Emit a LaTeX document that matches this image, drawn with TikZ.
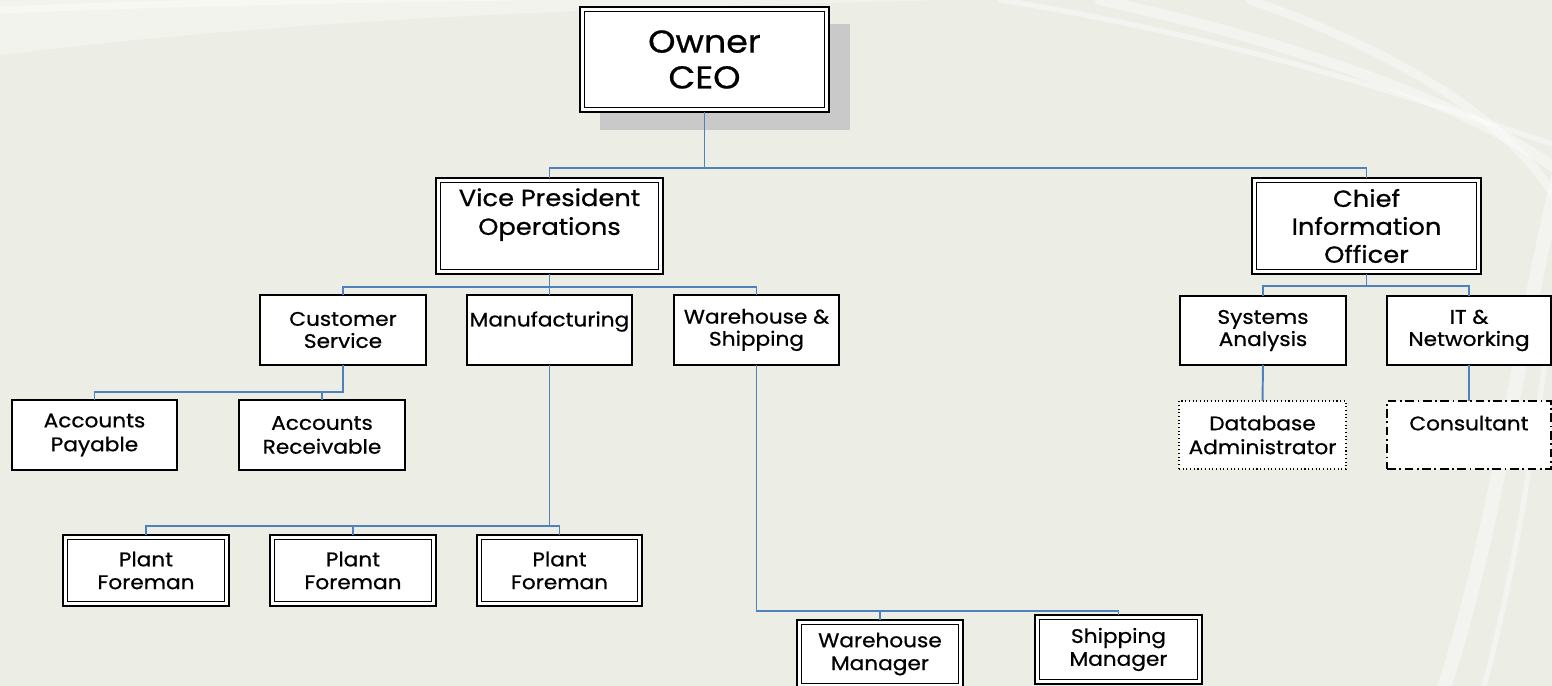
\documentclass[tikz,border=0pt]{standalone}
\usepackage{fontspec}
\setmainfont{Poppins}[FakeStretch=1.1,FakeBold=0.7]
\definecolor{bgc}{HTML}{ECEDE5}
\definecolor{lightc}{HTML}{F2F3ED}
\definecolor{connc}{HTML}{4F81BD}
\definecolor{shadowc}{HTML}{C9C9C9}
\newcommand{\orgbox}[7]{\node[#1, minimum width={(#5-#3)*0.02cm}, minimum height={(#6-#4)*0.02cm}] (#2) at ({(#3+#5)/2},{(#4+#6)/2}) {#7};}
\begin{document}
\begin{tikzpicture}[x=0.02cm,y=-0.02cm,
  box/.style={draw=black, fill=white, line width=0.85pt, inner sep=0pt, outer sep=0pt, align=center, font=\fontsize{11.2}{12.6}\selectfont},
  dbox/.style={box, line width=1.1pt},
  dotbox/.style={box, line width=0.8pt, dash pattern=on 0.6pt off 1.5pt},
  dashdotbox/.style={box, line width=1.1pt, dash pattern=on 5pt off 2pt on 1pt off 2pt},
  conn/.style={draw=connc, line width=1.1pt},
  swoosh/.style={draw=white, opacity=0.4, line cap=round}]
\fill[bgc] (0,0) rectangle (1552,686);
\useasboundingbox (0,0) rectangle (1552,686);
% background swooshes
\begin{scope}
\clip (0,0) rectangle (1552,686);
\fill[lightc] (0,0) -- (0,55) .. controls (300,18) and (600,8) .. (950,0) -- cycle;
\draw[swoosh, line width=4pt] (0,10) .. controls (200,2) and (400,-2) .. (600,-4);
\draw[swoosh, line width=6pt] (1100,0) .. controls (1330,50) and (1500,120) .. (1570,180);
\draw[swoosh, line width=3pt] (1000,0) .. controls (1250,40) and (1450,110) .. (1570,150);
\draw[swoosh, line width=8pt] (1560,170) .. controls (1520,330) and (1500,520) .. (1440,700);
\draw[swoosh, line width=3pt] (1560,250) .. controls (1540,400) and (1520,560) .. (1480,700);
\draw[swoosh, line width=5pt] (1250,0) .. controls (1420,60) and (1540,140) .. (1570,230);
\end{scope}
% shadow of CEO box
\fill[shadowc] (600,24) rectangle (850,130);
% boxes
\orgbox{dbox, font=\fontsize{18}{20.4}\selectfont}{ceo}{580}{7}{829}{112}{Owner\\CEO}
\orgbox{dbox, font=\fontsize{13.3}{16.4}\selectfont}{vp}{436}{178}{663}{274}{Vice President\\Operations\\~}
\orgbox{dbox, font=\fontsize{13.3}{15.9}\selectfont}{cio}{1252}{178}{1481}{274}{Chief\\Information\\Officer}
\orgbox{box}{cs}{260}{295}{426}{365}{Customer\\Service}
\orgbox{box}{mfg}{467}{295}{632}{365}{Manufacturing\\~}
\orgbox{box}{ws}{674}{295}{839}{365}{Warehouse \&\\Shipping}
\orgbox{box}{sa}{1180}{296}{1346}{365}{Systems\\Analysis}
\orgbox{box}{it}{1387}{296}{1551}{365}{IT \&\\Networking}
\orgbox{box, font=\fontsize{11.2}{13.6}\selectfont}{ap}{12}{400}{177}{470}{Accounts\\Payable}
\orgbox{box, font=\fontsize{11.2}{13.6}\selectfont}{ar}{239}{400}{405}{470}{Accounts\\Receivable}
\orgbox{dotbox, font=\fontsize{11.2}{13.6}\selectfont}{dba}{1179}{401}{1346}{469}{Database\\Administrator}
\orgbox{dashdotbox, font=\fontsize{11.2}{13.6}\selectfont}{cons}{1387}{401}{1551}{469}{Consultant\\~}
\orgbox{dbox, font=\fontsize{11.2}{13}\selectfont}{pf1}{63}{535}{229}{606}{Plant\\Foreman}
\orgbox{dbox, font=\fontsize{11.2}{13}\selectfont}{pf2}{270}{535}{436}{606}{Plant\\Foreman}
\orgbox{dbox, font=\fontsize{11.2}{13}\selectfont}{pf3}{477}{535}{642}{606}{Plant\\Foreman}
\orgbox{dbox, font=\fontsize{11.2}{13}\selectfont}{wm}{797}{620}{963}{688}{Warehouse\\Manager}
\orgbox{dbox, font=\fontsize{11.2}{13}\selectfont}{sm}{1035}{615}{1202}{684}{Shipping\\Manager}
% inner lines of double boxes
\foreach \n in {ceo,vp,cio,pf1,pf2,pf3,wm,sm}
  \draw[line width=0.6pt] ([xshift=2.4pt,yshift=2.4pt]\n.south west) rectangle ([xshift=-2.4pt,yshift=-2.4pt]\n.north east);
% bus levels
\coordinate (bA) at (0,168);
\coordinate (bB) at (0,287);
\coordinate (bC) at (0,286);
\coordinate (bD) at (0,392);
\coordinate (bE) at (0,526);
\coordinate (bF) at (0,611);
% connectors
\draw[conn] (ceo.south) -- (ceo.south |- bA) -| (vp.north);
\draw[conn] (ceo.south |- bA) -| (cio.north);
\draw[conn] (vp.south) -- (vp.south |- bB) -| (cs.north);
\draw[conn] (vp.south |- bB) -| (ws.north);
\draw[conn] (vp.south |- bB) -- (mfg.north);
\draw[conn] (cio.south) -- (cio.south |- bC) -| (sa.north);
\draw[conn] (cio.south |- bC) -| (it.north);
\draw[conn] (cs.south) -- (cs.south |- bD) -| (ap.north);
\draw[conn] (cs.south |- bD) -| (ar.north);
\draw[conn] (mfg.south) -- (mfg.south |- bE) -| (pf1.north);
\draw[conn] (mfg.south |- bE) -| (pf2.north);
\draw[conn] (mfg.south |- bE) -| (pf3.north);
\draw[conn] (ws.south) -- (ws.south |- bF) -| (wm.north);
\draw[conn] (ws.south |- bF) -| (sm.north);
\draw[conn] (sa.south) -- (dba.north);
\draw[conn] (it.south) -- (cons.north);
\end{tikzpicture}
\end{document}
